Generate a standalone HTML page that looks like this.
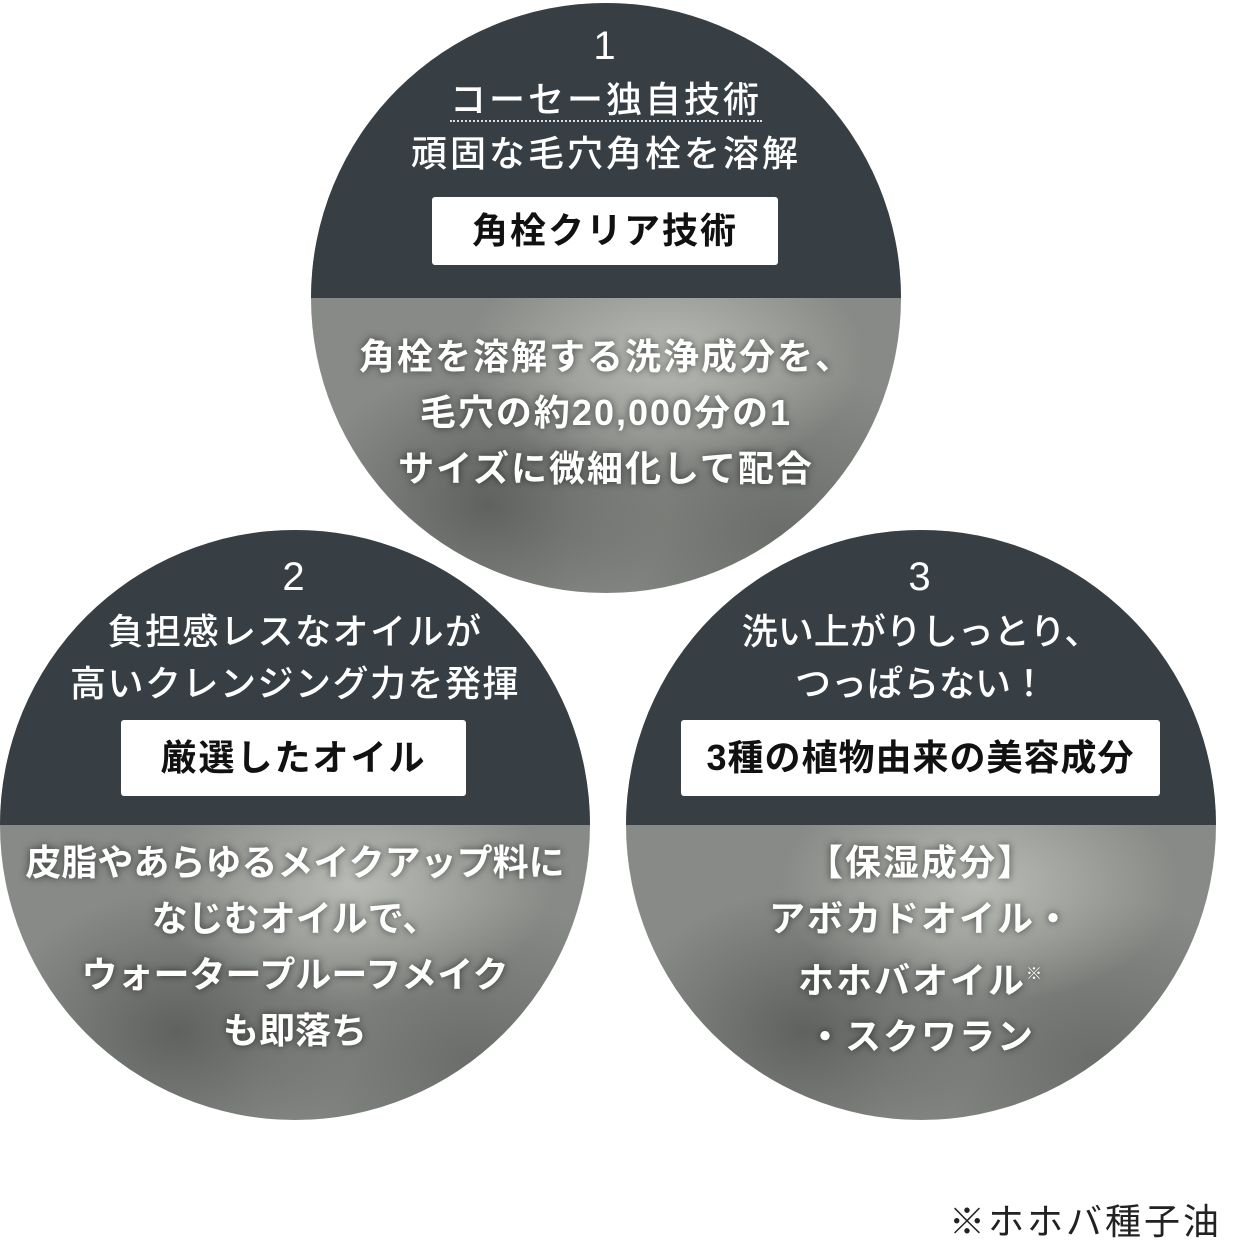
<!DOCTYPE html>
<html><head><meta charset="utf-8"><style>
*{margin:0;padding:0;box-sizing:border-box}
body{width:1238px;height:1244px;background:#fff;position:relative;overflow:hidden;font-family:"Liberation Sans","Noto Sans CJK JP",sans-serif}
.c{position:absolute;width:590px;height:590px;border-radius:50%;overflow:hidden;
background:radial-gradient(ellipse 200px 120px at 60% 60%,#b8bbb5,transparent),radial-gradient(ellipse 180px 140px at 30% 85%,#5f625f,transparent),radial-gradient(ellipse 220px 160px at 80% 90%,#6a6d69,transparent),#878a86}
.top{position:absolute;left:0;top:0;width:100%;height:295px;background:#373f44}
.t{position:absolute;left:0;width:100%;text-align:center;color:#fff;font-weight:500;font-size:36px;letter-spacing:3px;line-height:54px;white-space:nowrap}
.box{position:absolute;background:#fff;border-radius:3px;color:#111;font-weight:700;font-size:36px;letter-spacing:2px;text-align:center;line-height:76px;white-space:nowrap}
.b{position:absolute;left:0;width:100%;text-align:center;color:#fff;font-weight:700;font-size:36px;letter-spacing:2px;line-height:56px;text-shadow:0 0 8px rgba(0,0,0,.6);white-space:nowrap}
.u{border-bottom:2px dotted #ddd}
</style></head><body>
<div class="c" style="left:311px;top:3px">
 <div class="top"></div>
 <div class="t" style="top:16px;font-size:40px">1</div>
 <div class="t" style="top:70px"><span class="u">コーセー独自技術</span></div>
 <div class="t" style="top:124px">頑固な毛穴角栓を溶解</div>
 <div class="box" style="left:121px;top:194px;width:346px;height:68px;line-height:68px">角栓クリア技術</div>
 <div class="b" style="top:326px">角栓を溶解する洗浄成分を、<br>毛穴の約20,000分の1<br>サイズに微細化して配合</div>
</div>
<div class="c" style="left:0;top:530px">
 <div class="top"></div>
 <div class="t" style="top:20px;font-size:40px">2</div>
 <div class="t" style="top:76px;line-height:52px;letter-spacing:1.5px">負担感レスなオイルが<br>高いクレンジング力を発揮</div>
 <div class="box" style="left:121px;top:190px;width:345px;height:76px">厳選したオイル</div>
 <div class="b" style="top:305px;letter-spacing:0">皮脂やあらゆるメイクアップ料に<br>なじむオイルで、<br>ウォータープルーフメイク<br>も即落ち</div>
</div>
<div class="c" style="left:626px;top:530px">
 <div class="top"></div>
 <div class="t" style="top:20px;font-size:40px">3</div>
 <div class="t" style="top:76px;line-height:52px;letter-spacing:0">洗い上がりしっとり、<br>つっぱらない！</div>
 <div class="box" style="left:55px;top:190px;width:479px;height:76px;letter-spacing:1px">3種の植物由来の美容成分</div>
 <div class="b" style="top:305px">【保湿成分】<br>アボカドオイル・<br>ホホバオイル<sup style="font-size:16px;vertical-align:14px">※</sup><br>・スクワラン</div>
</div>
<div style="position:absolute;right:16px;top:1200px;font-size:36px;letter-spacing:3px;color:#222;line-height:44px">※ホホバ種子油</div>
</body></html>
